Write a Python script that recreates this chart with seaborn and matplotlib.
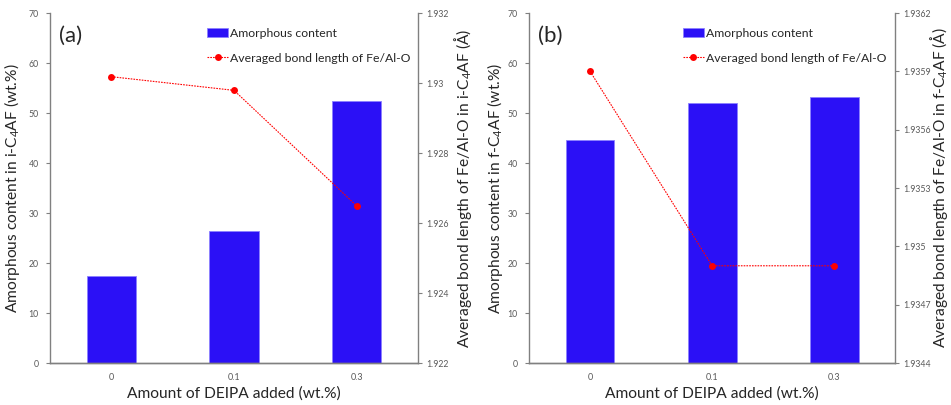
import matplotlib
matplotlib.use("Agg")
import matplotlib.pyplot as plt
import seaborn as sns
import pandas as pd

categories = ["0", "0.1", "0.3"]
amorph_a = [17.4, 26.4, 52.4]
bond_a = [1.93018, 1.92979, 1.92649]
amorph_b = [44.6, 52.0, 53.2]
bond_b = [1.93590, 1.93490, 1.93490]

left_ticks = [0, 10, 20, 30, 40, 50, 60, 70]
right_ticks_a = [1.922, 1.924, 1.926, 1.928, 1.93, 1.932]
right_labels_a = ["1.922", "1.924", "1.926", "1.928", "1.93", "1.932"]
right_ticks_b = [1.9344, 1.9347, 1.935, 1.9353, 1.9356, 1.9359, 1.9362]
right_labels_b = ["1.9344", "1.9347", "1.935", "1.9353", "1.9356", "1.9359", "1.9362"]

sns.set_style("white")
plt.rcParams['font.family'] = ['Lato', 'DejaVu Sans']
plt.rcParams['mathtext.default'] = 'regular'

BAR = "#2B10F6"
RED = "#FF0000"
GRAY = "#808080"
TICKC = "#595959"
LABEL_FS = 11.2

fig = plt.figure(figsize=(9.51, 4.05), dpi=100)

panels = [
    dict(rect=[0.0526, 0.1037, 0.3869, 0.8642], amorph=amorph_a, bond=bond_a,
         rt=right_ticks_a, rl=right_labels_a, tag="(a)", s="i", lx=-0.103, rx=1.122, lg=0.427),
    dict(rect=[0.5563, 0.1037, 0.3850, 0.8642], amorph=amorph_b, bond=bond_b,
         rt=right_ticks_b, rl=right_labels_b, tag="(b)", s="f", lx=-0.092, rx=1.121, lg=0.420),
]

for p in panels:
    ax = fig.add_axes(p["rect"])
    df = pd.DataFrame({"cat": categories, "amorph": p["amorph"], "bond": p["bond"]})
    sns.barplot(data=df, x="cat", y="amorph", color=BAR, saturation=1, width=0.4,
                edgecolor="#8C80FF", linewidth=0.6, ax=ax, label="Amorphous content")
    if ax.get_legend():
        ax.get_legend().remove()
    ax.set_xlim(-0.5, 2.5)
    ax.set_ylim(0, 70)
    ax.set_yticks(left_ticks)
    ax.set_yticklabels([str(t) for t in left_ticks])
    ax2 = ax.twinx()
    sns.lineplot(data=df, x="cat", y="bond", color=RED, linestyle=(0, (1.5, 1)),
                 linewidth=0.8, marker="o", markersize=5, markeredgewidth=0,
                 ax=ax2, label="Averaged bond length of Fe/Al-O")
    ax2.set_xlim(-0.5, 2.5)
    ax2.set_ylim(p["rt"][0], p["rt"][-1])
    ax2.set_yticks(p["rt"])
    ax2.set_yticklabels(p["rl"])

    for a in (ax, ax2):
        a.spines["top"].set_visible(False)
        for side in ["left", "bottom", "right"]:
            a.spines[side].set_color(GRAY)
            a.spines[side].set_linewidth(1.0)
    ax.tick_params(axis="y", labelsize=6.3, labelcolor=TICKC, color=GRAY,
                   length=3, width=0.8, direction="out", pad=5)
    ax2.tick_params(axis="y", labelsize=6.3, labelcolor=TICKC, color=GRAY,
                    length=3, width=0.8, direction="out", pad=3)
    ax.tick_params(axis="x", labelsize=6.5, labelcolor=TICKC, length=0, pad=7)
    ax2.spines["left"].set_visible(False)
    ax.spines["right"].set_visible(False)

    ax.set_xlabel("Amount of DEIPA added (wt.%)", fontsize=LABEL_FS, labelpad=3)
    ax.set_ylabel("Amorphous content in %s-C$_4$AF (wt.%%)" % p["s"], fontsize=LABEL_FS)
    ax2.set_ylabel("Averaged bond length of Fe/Al-O in %s-C$_4$AF (Å)" % p["s"], fontsize=LABEL_FS)
    ax.yaxis.set_label_coords(p["lx"], 0.5)
    ax.yaxis.label.set_va("center")
    ax2.yaxis.set_label_coords(p["rx"], 0.5)
    ax2.yaxis.label.set_va("center")

    ax.text(0.025, 0.935, p["tag"], transform=ax.transAxes, fontsize=16, va="center", ha="left")

    h1, l1 = ax.get_legend_handles_labels()
    h2, l2 = ax2.get_legend_handles_labels()
    if ax2.get_legend():
        ax2.get_legend().remove()
    ax2.legend(h1 + h2, l1 + l2, loc="upper left", bbox_to_anchor=(p["lg"], 0.958),
               frameon=False, fontsize=8.8, handlelength=1.7, handletextpad=0.2,
               labelspacing=1.15, borderpad=0, borderaxespad=0)

fig.savefig("out.png", dpi=100)
